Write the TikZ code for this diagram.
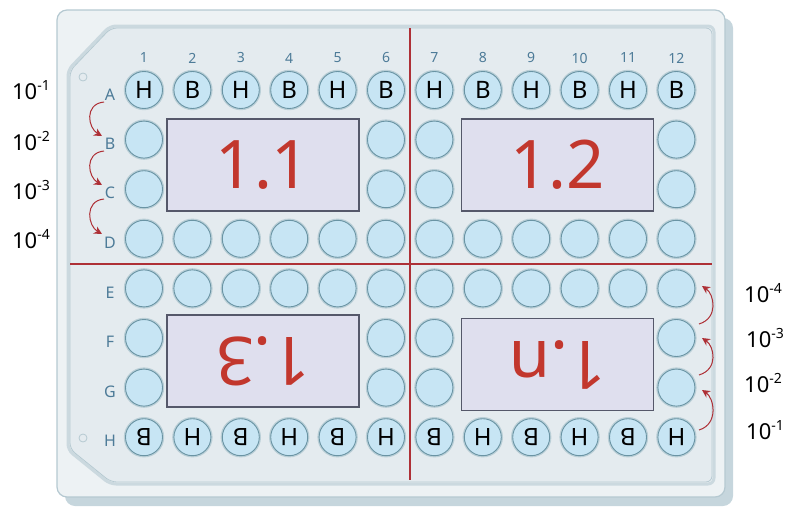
\documentclass[tikz,border=0pt]{standalone}
\usepackage{fontspec}
\setmainfont{Noto Sans}
\usetikzlibrary{arrows.meta}
\definecolor{wellfill}{HTML}{C7E5F4}
\definecolor{welledge}{HTML}{6A94A4}
\definecolor{wellhalo}{HTML}{BACFD7}
\definecolor{plateout}{HTML}{EDF2F4}
\definecolor{plateedge}{HTML}{B5C9D1}
\definecolor{platein}{HTML}{E4EBEF}
\definecolor{plateside}{HTML}{C6D6DD}
\definecolor{labblue}{HTML}{4D7B98}
\definecolor{dred}{HTML}{C2372D}
\definecolor{arrred}{HTML}{AE3036}
\definecolor{boxfill}{HTML}{DFDFEE}
\definecolor{boxedge}{HTML}{55586A}
\begin{document}
\begin{tikzpicture}[x=1pt,y=-1pt,
  well/.style={circle, minimum size=37pt, inner sep=0pt, fill=wellfill, draw=welledge, line width=0.9pt,
    preaction={draw=wellhalo,line width=3.4pt}, font=\fontsize{24}{24}\selectfont},
  collab/.style={text=labblue, font=\fontsize{14}{14}\selectfont, inner sep=0pt},
  rowlab/.style={text=labblue, font=\fontsize{16}{16}\selectfont, inner sep=0pt},
  platebox/.style={fill=boxfill, draw=boxedge, line width=1.6pt, minimum width=192pt, minimum height=92pt,
    inner sep=0pt, text=dred, font=\fontsize{67}{67}\selectfont},
  redline/.style={draw=arrred, line width=1.8pt},
  dil/.style={draw=arrred, line width=1pt, -{Stealth[length=8pt,width=8pt]}},
  conc/.style={font=\fontsize{22}{22}\selectfont, inner sep=0pt}
]
\useasboundingbox (0,0) rectangle (787,506);
% plate body
\fill[plateside, rounded corners=10pt] (65,18) rectangle (733,506);
\draw[fill=plateout, draw=plateedge, line width=1.2pt, rounded corners=10pt] (57,10) rectangle (725,497);
\draw[draw=plateedge!70!white, line width=3pt, rounded corners=6pt]
  (68,70) -- (110,26) -- (714,26) -- (714,484) -- (110,484) -- (68,450) -- cycle;
\draw[fill=platein, draw=plateedge, line width=0.8pt, rounded corners=6pt]
  (70,70.8) -- (110.9,28) -- (712,28) -- (712,482) -- (110.8,482) -- (70,449) -- cycle;
\draw[plateedge, line width=0.8pt] (83,77) circle (4);
\draw[plateedge, line width=0.8pt] (83,438) circle (4);
% red dividers
\draw[redline] (410,28) -- (410,480);
\draw[redline] (70,264) -- (712,264);
% column labels and wells
\foreach \c in {1,...,12} {
  \pgfmathsetmacro\xx{144+48.4*(\c-1)}
  \node[collab] (col\c) at (\xx,58) {\c};
  \node[well] (D\c) at (\xx,238.8) {};
  \node[well] (E\c) at (\xx,288.4) {};
}
\foreach \c/\t in {1/H,2/B,3/H,4/B,5/H,6/B,7/H,8/B,9/H,10/B,11/H,12/B} {
  \pgfmathsetmacro\xx{144+48.4*(\c-1)}
  \node[well] (A\c) at (\xx,90) {\t};
}
\foreach \c/\t in {1/B,2/H,3/B,4/H,5/B,6/H,7/B,8/H,9/B,10/H,11/B,12/H} {
  \pgfmathsetmacro\xx{144+48.4*(\c-1)}
  \node[well, rotate=180] (H\c) at (\xx,437.2) {\t};
}
\foreach \c in {1,6,7,12} {
  \pgfmathsetmacro\xx{144+48.4*(\c-1)}
  \node[well] (B\c) at (\xx,139.6) {};
  \node[well] (C\c) at (\xx,189.2) {};
  \node[well] (F\c) at (\xx,338) {};
  \node[well] (G\c) at (\xx,387.6) {};
}
% row labels
\foreach \r/\y in {A/95,B/143.6,C/193.2,D/242.8,E/292.4,F/341.5,G/391.6,H/441.2} {
  \node[rowlab] (row\r) at (110,\y) {\r};
}
% boxes
\node[platebox] (q11) at (263,165) {1.1};
\node[platebox] (q12) at (557.5,165) {1.2};
\node[platebox, rotate=180] (q13) at (263,361) {1.3};
\node[platebox, rotate=180] (q1n) at (557.5,364.5) {1.n};
% concentration labels
\node[conc] (l1) at (31,90) {10\raisebox{0.42em}{\fontsize{14}{14}\selectfont -1}};
\node[conc] (l2) at (31,141) {10\raisebox{0.42em}{\fontsize{14}{14}\selectfont -2}};
\node[conc] (l3) at (31,190) {10\raisebox{0.42em}{\fontsize{14}{14}\selectfont -3}};
\node[conc] (l4) at (31,239) {10\raisebox{0.42em}{\fontsize{14}{14}\selectfont -4}};
\node[conc] (r4) at (763,293) {10\raisebox{0.42em}{\fontsize{14}{14}\selectfont -4}};
\node[conc] (r3) at (765,338) {10\raisebox{0.42em}{\fontsize{14}{14}\selectfont -3}};
\node[conc] (r2) at (763,383) {10\raisebox{0.42em}{\fontsize{14}{14}\selectfont -2}};
\node[conc] (r1) at (765,430) {10\raisebox{0.42em}{\fontsize{14}{14}\selectfont -1}};
% dilution arrows left
\coordinate (sa) at (104,102);  \coordinate (tb) at (102,136);
\coordinate (sb) at (104,151);  \coordinate (tc) at (102,185);
\coordinate (sc) at (104,199);  \coordinate (td) at (102,234);
\draw[dil] (sa) .. controls +(-20,2) and +(-14,-8) .. (tb);
\draw[dil] (sb) .. controls +(-20,2) and +(-14,-8) .. (tc);
\draw[dil] (sc) .. controls +(-20,2) and +(-14,-8) .. (td);
% dilution arrows right
\coordinate (sh) at (699,430);  \coordinate (tg) at (702,390);
\coordinate (sg) at (699,375);  \coordinate (tf) at (702,338);
\coordinate (sf) at (699,324);  \coordinate (te) at (702,286);
\draw[dil] (sh) .. controls +(20,-6) and +(12,8) .. (tg);
\draw[dil] (sg) .. controls +(20,-6) and +(12,8) .. (tf);
\draw[dil] (sf) .. controls +(20,-6) and +(12,8) .. (te);
\end{tikzpicture}
\end{document}
